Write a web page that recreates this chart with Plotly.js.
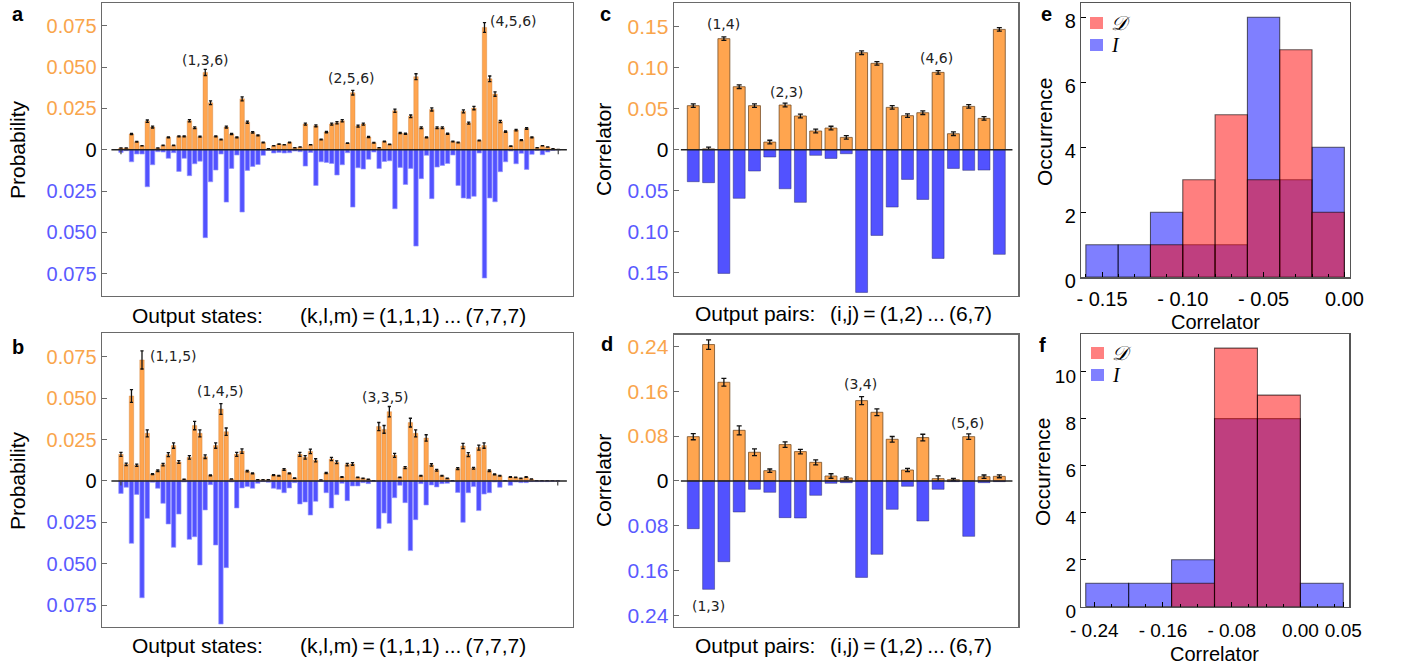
<!DOCTYPE html>
<html><head><meta charset="utf-8">
<script src="https://cdn.plot.ly/plotly-3.0.1.min.js"></script>
<style>html,body{margin:0;padding:0;background:#fff}#chart{width:1401px;height:667px}</style>
</head><body><div id="chart"></div>
<script>
// ---------- DATA ----------
// Panel a: three-photon output probabilities (orange: upper, blue: lower), states (1,1,1)...(7,7,7)
const aOrange=[0.0010,0.0010,0.0095,0.0048,0.0024,0.0173,0.0137,0.0010,0.0026,0.0075,0.0026,0.0081,0.0081,0.0175,0.0133,0.0079,0.0468,0.0284,0.0081,0.0062,0.0137,0.0095,0.0075,0.0308,0.0167,0.0105,0.0087,0.0044,0.0006,0.0024,0.0034,0.0030,0.0044,0.0012,0.0016,0.0155,0.0030,0.0145,0.0062,0.0107,0.0155,0.0163,0.0175,0.0040,0.0345,0.0143,0.0155,0.0077,0.0042,0.0012,0.0050,0.0032,0.0236,0.0101,0.0097,0.0202,0.0442,0.0133,0.0075,0.0244,0.0133,0.0133,0.0097,0.0050,0.0044,0.0232,0.0161,0.0252,0.0056,0.0740,0.0429,0.0337,0.0171,0.0109,0.0022,0.0119,0.0058,0.0129,0.0075,0.0012,0.0024,0.0016,0.0006,0.0002];
const aBlue=[0.0016,0.0006,0.0073,0.0026,0.0026,0.0224,0.0091,0.0012,0.0014,0.0052,0.0018,0.0131,0.0052,0.0157,0.0085,0.0069,0.0532,0.0194,0.0123,0.0026,0.0317,0.0113,0.0032,0.0377,0.0125,0.0101,0.0089,0.0034,0.0004,0.0020,0.0016,0.0020,0.0018,0.0008,0.0012,0.0099,0.0016,0.0216,0.0073,0.0077,0.0083,0.0153,0.0091,0.0018,0.0347,0.0109,0.0117,0.0058,0.0014,0.0113,0.0071,0.0067,0.0357,0.0107,0.0210,0.0113,0.0583,0.0175,0.0034,0.0296,0.0105,0.0095,0.0083,0.0032,0.0216,0.0292,0.0296,0.0282,0.0020,0.0776,0.0292,0.0315,0.0133,0.0073,0.0008,0.0085,0.0022,0.0119,0.0028,0.0004,0.0030,0.0014,0.0004,0.0002];
// Panel b
const bOrange=[0.0161,0.0101,0.0514,0.0095,0.0732,0.0288,0.0042,0.0062,0.0099,0.0159,0.0214,0.0115,0.0010,0.0143,0.0335,0.0288,0.0147,0.0034,0.0214,0.0435,0.0298,0.0012,0.0161,0.0181,0.0060,0.0046,0.0008,0.0008,0.0008,0.0036,0.0032,0.0069,0.0046,0.0018,0.0161,0.0143,0.0179,0.0125,0.0006,0.0048,0.0133,0.0113,0.0024,0.0099,0.0103,0.0022,0.0016,0.0010,0.0002,0.0329,0.0312,0.0419,0.0155,0.0022,0.0081,0.0353,0.0288,0.0032,0.0260,0.0097,0.0065,0.0032,0.0016,0.0002,0.0075,0.0212,0.0159,0.0077,0.0202,0.0214,0.0062,0.0040,0.0032,0.0002,0.0024,0.0022,0.0016,0.0024,0.0012,0.0002,0.0002,0.0002,0.0002,0.0001];
const bBlue=[0.0075,0.0038,0.0377,0.0081,0.0706,0.0226,0.0008,0.0044,0.0135,0.0260,0.0401,0.0200,0.0006,0.0353,0.0337,0.0508,0.0175,0.0022,0.0387,0.0865,0.0524,0.0006,0.0163,0.0042,0.0034,0.0044,0.0014,0.0004,0.0008,0.0044,0.0050,0.0071,0.0042,0.0010,0.0139,0.0127,0.0206,0.0123,0.0004,0.0071,0.0163,0.0083,0.0014,0.0119,0.0030,0.0030,0.0010,0.0016,0.0004,0.0288,0.0194,0.0256,0.0101,0.0026,0.0131,0.0421,0.0234,0.0016,0.0145,0.0024,0.0036,0.0016,0.0014,0.0004,0.0069,0.0250,0.0071,0.0034,0.0179,0.0079,0.0071,0.0006,0.0038,0.0002,0.0026,0.0006,0.0010,0.0010,0.0004,0.0004,0.0004,0.0004,0.0002,0.0001];
// Panel c, d: pair correlators (i,j)=(1,2)...(6,7)
const cOrange=[0.0537,0.0010,0.1354,0.0768,0.0537,0.0093,0.0545,0.0411,0.0228,0.0264,0.0150,0.1183,0.1053,0.0516,0.0415,0.0451,0.0943,0.0195,0.0528,0.0382,0.1467];
const cBlue=[0.0390,0.0402,0.1508,0.0593,0.0260,0.0089,0.0476,0.0642,0.0069,0.0106,0.0049,0.1740,0.1045,0.0699,0.0362,0.0606,0.1325,0.0228,0.0252,0.0248,0.1276];
const dOrange=[0.0791,0.2434,0.1761,0.0904,0.0512,0.0184,0.0649,0.0524,0.0333,0.0089,0.0054,0.1434,0.1226,0.0744,0.0196,0.0774,0.0042,0.0024,0.0791,0.0077,0.0083];
const dBlue=[0.0851,0.1934,0.1440,0.0553,0.0149,0.0202,0.0654,0.0660,0.0256,0.0042,0.0030,0.1720,0.1309,0.0506,0.0095,0.0714,0.0149,0.0012,0.0988,0.0030,0.0012];
const dErr=[0.0055,0.0085,0.0070,0.0080,0.0060,0.0030,0.0050,0.0040,0.0045,0.0040,0.0020,0.0070,0.0060,0.0050,0.0030,0.0060,0.0050,0.0020,0.0050,0.0030,0.0025];
// Panel e, f: histograms (bin left edges, counts)
const eBinStart=[-0.16,-0.14,-0.12,-0.10,-0.08,-0.06,-0.04,-0.02];
const eCountI=[1,1,2,1,1,8,3,4];
const eCountD=[0,0,1,3,5,3,7,2];
const fBinStart=[-0.25,-0.20,-0.15,-0.10,-0.05,0.00];
const fCountI=[1,1,2,8,8,1];
const fCountD=[0,0,1,11,9,0];
// Tick labels
const aTickVals=[-0.075,-0.05,-0.025,0,0.025,0.05,0.075];
const aTickText=['0.075','0.050','0.025','0','0.025','0.050','0.075'];
const cTickVals=[-0.15,-0.10,-0.05,0,0.05,0.10,0.15];
const cTickText=['0.15','0.10','0.05','0','0.05','0.10','0.15'];
const dTickVals=[-0.24,-0.16,-0.08,0,0.08,0.16,0.24];
const dTickText=['0.24','0.16','0.08','0','0.08','0.16','0.24'];
const eTickVals=[-0.15,-0.10,-0.05,0.00];
const eTickText=['- 0.15','- 0.10','- 0.05','0.00'];
const fTickVals=[-0.24,-0.16,-0.08,0.00,0.05];
const fTickText=['- 0.24','- 0.16','- 0.08','0.00','0.05'];

// categories
const states=[];for(let k=1;k<=7;k++)for(let l=k;l<=7;l++)for(let m=l;m<=7;m++)states.push('('+k+','+l+','+m+')');
const pairs=[];for(let i=1;i<=7;i++)for(let j=i+1;j<=7;j++)pairs.push('('+i+','+j+')');
const sIdx=states.map((_,i)=>i+1);
const pIdx=pairs.map((_,i)=>i+1);

// ---------- STYLE ----------
const W=1401,H=667;
const ORANGE='#ffa54f', BLUE='#5252ff', OTXT='#f9a54c', BTXT='#5a5aff';
const SANS='Liberation Sans, Arial, sans-serif';
const px=v=>v/W, py=v=>1-v/H;
const neg=a=>a.map(v=>-v);
function colorTicks(vals,txt){return vals.map((v,i)=>v>0?'<span style="color:'+OTXT+'">'+txt[i]+'</span>':(v<0?'<span style="color:'+BTXT+'">'+txt[i]+'</span>':'<span style="color:#000">'+txt[i]+'</span>'));}

function barPair(xs,up,down,names,xa,ya,w,err,errW,lineO,lwO,lineB){
  return [
    {type:'bar',x:xs,y:up,width:w,xaxis:xa,yaxis:ya,hovertext:names,textposition:'none',
     marker:{color:ORANGE,line:{color:lineO,width:lwO}},error_y:Object.assign({color:'#111',thickness:1.3,width:errW},err),showlegend:false},
    {type:'bar',x:xs,y:neg(down),width:w,xaxis:xa,yaxis:ya,hovertext:names,textposition:'none',
     marker:{color:BLUE,line:{color:lineB,width:0.8}},showlegend:false}
  ];
}
const traces=[]
 .concat(barPair(sIdx,aOrange,aBlue,states,'x','y',0.84,{type:'percent',value:4},1.6,'rgba(200,120,50,0.6)',0.6,'rgba(150,150,255,0.8)'))
 .concat(barPair(sIdx,bOrange,bBlue,states,'x2','y2',0.84,{type:'percent',value:7.5},1.6,'rgba(200,120,50,0.6)',0.6,'rgba(150,150,255,0.8)'))
 .concat(barPair(pIdx,cOrange,cBlue,pairs,'x3','y3',0.78,{type:'constant',value:0.0022},2.5,'rgba(110,70,30,0.75)',1,'rgba(40,40,110,0.6)'))
 .concat(barPair(pIdx,dOrange,dBlue,pairs,'x4','y4',0.78,{type:'data',array:dErr},2.5,'rgba(110,70,30,0.75)',1,'rgba(40,40,110,0.6)'));
function hist(xs,ys,col,xa,ya,w){return {type:'bar',x:xs,y:ys,width:w,offset:0,xaxis:xa,yaxis:ya,showlegend:false,textposition:'none',
  marker:{color:col,line:{color:'rgba(0,0,0,0.6)',width:1.1}}};}
traces.push(hist(eBinStart,eCountI,'rgba(0,0,255,0.5)','x5','y5',0.02));
traces.push(hist(eBinStart,eCountD,'rgba(255,0,0,0.5)','x5','y5',0.02));
traces.push(hist(fBinStart,fCountI,'rgba(0,0,255,0.5)','x6','y6',0.05));
traces.push(hist(fBinStart,fCountD,'rgba(255,0,0,0.5)','x6','y6',0.05));

const frame={showline:true,mirror:true,linecolor:'#6a6a6a',linewidth:1.4,showgrid:false,zeroline:false};
function xBar(d0,d1,r,anc){return Object.assign({domain:[px(d0),px(d1)],range:r,showticklabels:false,ticks:'',anchor:anc},frame);}
function yBar(top,bot,r,vals,txt,anc,fs){return Object.assign({domain:[py(bot),py(top)],range:r,tickvals:vals,ticktext:colorTicks(vals,txt),anchor:anc,
  ticks:'inside',ticklen:5,tickcolor:'#6a6a6a',tickfont:{family:SANS,size:fs,color:'#000'}},frame);}
const hframe={showline:true,mirror:true,linecolor:'#555',linewidth:1.2,showgrid:false,zeroline:false,ticks:'inside',ticklen:5,tickcolor:'#000',tickfont:{family:SANS,size:20,color:'#000'}};
const f19={family:SANS,size:19,color:'#000'};

const layout={
  width:W,height:H,margin:{l:0,r:0,t:0,b:0},paper_bgcolor:'#fff',plot_bgcolor:'#fff',
  barmode:'overlay',bargap:0,showlegend:false,
  xaxis:xBar(102,573,[-2.6,86.8],'y'),
  yaxis:yBar(3.3,296,[-0.0885,0.0886],aTickVals,aTickText,'x',20),
  xaxis2:xBar(102,573,[-2.6,86.9],'y2'),
  yaxis2:yBar(333.3,626.7,[-0.0881,0.0893],aTickVals,aTickText,'x2',20),
  xaxis3:xBar(674,1018.3,[-0.26,22.24],'y3'),
  yaxis3:yBar(3.3,295.7,[-0.178,0.1785],cTickVals,cTickText,'x3',21),
  xaxis4:xBar(674,1018.3,[-0.26,22.24],'y4'),
  yaxis4:yBar(334.7,626.7,[-0.26,0.261],dTickVals,dTickText,'x4',21),
  xaxis5:Object.assign({},hframe,{domain:[px(1081),px(1350)],range:[-0.163,0.0035],tickvals:eTickVals,ticktext:eTickText,ticklabelstandoff:3,anchor:'y5',
     minor:{ticks:'inside',ticklen:3,dtick:0.01,tick0:0,tickcolor:'#000'}}),
  yaxis5:Object.assign({},hframe,{domain:[py(277.3),py(3.3)],range:[0,8.43],tickvals:[0,2,4,6,8],anchor:'x5',ticklabelshift:4}),
  xaxis6:Object.assign({},hframe,{domain:[px(1081),px(1349.3)],range:[-0.2555,0.057],tickvals:fTickVals,ticktext:fTickText,ticklabelstandoff:6,anchor:'y6',tickfont:f19,
     minor:{ticks:'inside',ticklen:3,dtick:0.02,tick0:0,tickcolor:'#000'}}),
  yaxis6:Object.assign({},hframe,{domain:[py(606.7),py(334)],range:[0,11.6],tickvals:[0,2,4,6,8,10],anchor:'x6',ticklabelshift:5,tickfont:f19}),
  shapes:[],annotations:[]
};
// zero lines and end ticks
[['x','y',0.02,0.987],['x2','y2',0.02,0.987],['x3','y3',0.02,0.983],['x4','y4',0.02,0.983]].forEach(([xa,ya,a,b])=>{
  layout.shapes.push({type:'line',xref:xa+' domain',yref:ya,x0:a,x1:b,y0:0,y1:0,line:{color:'#222',width:1.5},layer:'above'});
});
[['x','y',0.0028],['x2','y2',0.0028]].forEach(([xa,ya,h])=>{
  [1,sIdx.length].forEach(i=>layout.shapes.push({type:'line',xref:xa,yref:ya,x0:i,x1:i,y0:0,y1:-h,line:{color:'#444',width:1.2},layer:'above'}));
});
// legend swatches e,f
function swatch(x0,y0,col){layout.shapes.push({type:'rect',xref:'paper',yref:'paper',x0:px(x0),x1:px(x0+13),y0:py(y0+12),y1:py(y0),fillcolor:col,line:{width:0}});}
swatch(1090,17,'#ff8080');swatch(1090,39,'#8080ff');
swatch(1091,347,'#ff8080');swatch(1091,369,'#8080ff');

function ann(text,x,y,o){layout.annotations.push(Object.assign({text:text,xref:'paper',yref:'paper',x:px(x),y:py(y),showarrow:false,xanchor:'center',yanchor:'middle',font:{family:SANS,size:21,color:'#000'}},o||{}));}
function dann(text,xa,ya,x,y){layout.annotations.push({text:text,xref:xa,yref:ya,x:x,y:y,showarrow:false,xanchor:'center',yanchor:'middle',font:{family:'DejaVu Sans, sans-serif',size:14,color:'#222'}});}
// panel letters
const L={font:{family:SANS,size:20,color:'#000'}};
ann('<b>a</b>',18,14,L);ann('<b>b</b>',18,347,L);ann('<b>c</b>',605,14,L);ann('<b>d</b>',607,344,L);ann('<b>e</b>',1046,14,L);ann('<b>f</b>',1042,345,L);
// axis titles
ann('Probability',17,150,{textangle:-90});ann('Probability',17,481,{textangle:-90});
ann('Correlator',603,150,{textangle:-90});ann('Correlator',603,481,{textangle:-90});
ann('Occurrence',1044,132,{textangle:-90});ann('Occurrence',1042,472,{textangle:-90});
ann('Correlator',1215,322,{font:{family:SANS,size:20,color:'#000'}});ann('Correlator',1214,654,{font:{family:SANS,size:20,color:'#000'}});
ann('Output states:',130,316,{xanchor:'left'});ann('(k,l,m)\u2009=\u2009(1,1,1)\u2009...\u2009(7,7,7)',298,316,{xanchor:'left'});
ann('Output states:',130,645,{xanchor:'left'});ann('(k,l,m)\u2009=\u2009(1,1,1)\u2009...\u2009(7,7,7)',298,645,{xanchor:'left'});
ann('Output pairs:',693,313,{xanchor:'left'});ann('(i,j)\u2009=\u2009(1,2)\u2009...\u2009(6,7)',828,313,{xanchor:'left'});
ann('Output pairs:',693,645,{xanchor:'left'});ann('(i,j)\u2009=\u2009(1,2)\u2009...\u2009(6,7)',828,645,{xanchor:'left'});
// legend labels
const LG={xanchor:'left',font:{family:'Liberation Serif, serif',size:20,color:'#000'}};
ann('<i>\uD835\uDC9F</i>',1109,23,LG);ann('<i>I</i>',1109,45,LG);
ann('<i>\uD835\uDC9F</i>',1110,353,LG);ann('<i>I</i>',1110,375,LG);
// peak labels (data coords)
dann('(1,3,6)','x','y',17,0.0543);dann('(2,5,6)','x','y',44.8,0.0434);dann('(4,5,6)','x','y',75.5,0.0778);
dann('(1,1,5)','x2','y2',10.9,0.0756);dann('(1,4,5)','x2','y2',19.9,0.0544);dann('(3,3,5)','x2','y2',51.3,0.0508);
dann('(1,4)','x3','y3',2.97,0.1533);dann('(2,3)','x3','y3',7.09,0.0704);dann('(4,6)','x3','y3',16.9,0.1124);
dann('(1,3)','x4','y4',1.99,-0.223);dann('(3,4)','x4','y4',11.96,0.173);dann('(5,6)','x4','y4',18.9,0.1035);

Plotly.newPlot('chart',traces,layout,{staticPlot:true,displayModeBar:false});
</script></body></html>
